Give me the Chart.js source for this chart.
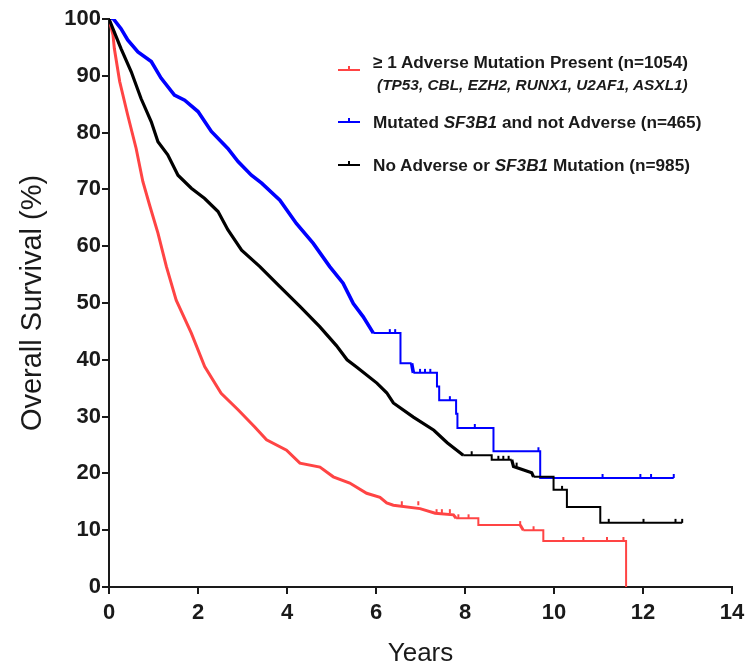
<!DOCTYPE html>
<html>
<head>
<meta charset="utf-8">
<script src="https://cdn.jsdelivr.net/npm/chart.js@4.4.1/dist/chart.umd.min.js"></script>
<style>
  html, body { margin: 0; padding: 0; background: #fff; }
  #wrap { position: relative; width: 746px; height: 671px; }
  #legend { position: absolute; left: 0; top: 0; font-family: "Liberation Sans", Arial, sans-serif; color: #1a1a1a; font-weight: bold; }
  .row { position: absolute; white-space: nowrap; font-size: 17.2px; line-height: 20px; }
  .row.sub { font-size: 15.4px; line-height: 18px; font-style: italic; }
  .sym { position: absolute; width: 22px; height: 0; border-top: 2px solid currentColor; }
  .sym::after { content: ""; position: absolute; left: 10px; top: -5px; width: 2px; height: 4px; background: currentColor; }
</style>
</head>
<body>
<div id="wrap">
  <canvas id="km" width="746" height="671"></canvas>
  <div id="legend">
    <div class="sym" style="color:#ff4444; left:338px; top:69px;"></div>
    <div class="row" style="left:373px; top:52px;">&ge; 1 Adverse Mutation Present (n=1054)</div>
    <div class="row sub" style="left:377px; top:76px;">(TP53, CBL, EZH2, RUNX1, U2AF1, ASXL1)</div>
    <div class="sym" style="color:#0000ff; left:338px; top:121px;"></div>
    <div class="row" style="left:373px; top:112px;">Mutated <i>SF3B1</i> and not Adverse (n=465)</div>
    <div class="sym" style="color:#000; left:338px; top:164px;"></div>
    <div class="row" style="left:373px; top:155px;">No Adverse or <i>SF3B1</i> Mutation (n=985)</div>
  </div>
</div>
<script>
// survival curves (years, % surviving)
const redT = [0, 0.09, 0.12, 0.24, 0.42, 0.61, 0.76, 0.91, 1.1, 1.29, 1.51, 1.85, 2.15, 2.52, 2.9, 3.27, 3.54, 3.99, 4.29, 4.74, 5.04, 5.41, 5.79, 6.09, 6.24, 6.39, 6.99, 7.33, 7.74, 7.8, 8.3, 8.3, 9.24, 9.31, 9.76, 9.76, 11.62, 11.62];
const redS = [100, 97.2, 94.8, 89, 83.1, 77.2, 71.4, 67.3, 62.3, 56.4, 50.5, 44.7, 38.8, 34.1, 31.2, 28.2, 25.9, 24.1, 21.8, 21.1, 19.4, 18.3, 16.5, 15.8, 14.8, 14.4, 13.8, 13.0, 12.7, 12.1, 12.1, 10.9, 10.9, 10.0, 10.0, 8.1, 8.1, 0];

const bluT = [0, 0.1, 0.27, 0.42, 0.65, 0.95, 1.17, 1.47, 1.7, 2.0, 2.3, 2.67, 2.9, 3.2, 3.43, 3.84, 4.21, 4.59, 4.96, 5.26, 5.49, 5.71, 5.94, 6.55, 6.55, 6.8, 6.84, 7.37, 7.37, 7.42, 7.42, 7.8, 7.8, 7.83, 7.83, 8.64, 8.64, 9.69, 9.69, 12.69];
const bluS = [100, 100, 98.3, 96.3, 94.2, 92.5, 89.6, 86.6, 85.7, 83.7, 80.2, 77.2, 74.9, 72.5, 71.1, 68.1, 64, 60.5, 56.4, 53.5, 49.9, 47.6, 44.7, 44.7, 39.4, 39.4, 37.7, 37.7, 35.3, 35.3, 32.9, 32.9, 30.5, 30.5, 28, 28, 23.9, 23.9, 19.2, 19.2];

const blkT = [0, 0.27, 0.5, 0.72, 0.95, 1.1, 1.32, 1.55, 1.85, 2.15, 2.45, 2.67, 2.98, 3.39, 3.84, 4.29, 4.74, 5.11, 5.35, 5.57, 6.02, 6.24, 6.39, 6.84, 7.3, 7.6, 7.96, 8.6, 8.6, 9.05, 9.09, 9.5, 9.54, 9.99, 9.99, 10.29, 10.29, 11.04, 11.04, 12.88];
const blkS = [100, 94.8, 90.7, 86, 81.9, 78.4, 76.1, 72.5, 70.2, 68.4, 66.1, 62.9, 59.3, 56.4, 52.9, 49.4, 45.8, 42.5, 40, 38.7, 35.9, 34.2, 32.4, 29.9, 27.6, 25.4, 23.2, 23.2, 22.4, 22.4, 21.2, 20.1, 19.4, 19.4, 17.1, 17.1, 14.1, 14.1, 11.3, 11.3];

// censor marks (years)
const redCensor = [6.58, 6.95, 7.36, 7.48, 7.66, 7.85, 8.08, 9.24, 9.54, 10.21, 10.66, 11.19, 11.56];
const bluCensor = [6.31, 6.43, 6.99, 7.1, 7.22, 7.66, 8.22, 9.65, 11.09, 11.94, 12.18, 12.69];
const blkCensor = [8.15, 8.75, 8.86, 8.98, 9.16, 10.18, 11.23, 12.01, 12.73, 12.88];

const xTicks = [0, 2, 4, 6, 8, 10, 12, 14];

const RED = "#ff4444";
const BLUE = "#0000ff";
const BLACK = "#000000";
const AXIS = "#1a1a1a";
const FONT = "'Liberation Sans', Arial, sans-serif";

function toPoints(ts, ss) {
    return ts.map((t, i) => ({ x: t, y: ss[i] }));
}

// survival level in effect at time t
function levelAt(ts, ss, t) {
    let v = ss[0];
    for (let i = 0; i < ts.length; i++) {
        if (ts[i] <= t) v = ss[i];
    }
    return v;
}

function censorPoints(times, ts, ss) {
    return times.map(t => ({ x: t, y: levelAt(ts, ss, t) }));
}

// small upward tick used for censored observations
function tickMark(color) {
    const c = document.createElement("canvas");
    c.width = 4;
    c.height = 12;
    const g = c.getContext("2d");
    g.strokeStyle = color;
    g.lineWidth = 2;
    g.beginPath();
    g.moveTo(2, 2);
    g.lineTo(2, 6);
    g.stroke();
    return c;
}

function curve(label, ts, ss, color, w) {
    return {
        label: label,
        data: toPoints(ts, ss),
        borderColor: color,
        borderWidth: w,
        pointRadius: 0,
        fill: false,
        tension: 0,
        segment: {
            borderWidth: c => (c.p0.parsed.x === c.p1.parsed.x || c.p0.parsed.y === c.p1.parsed.y) ? 2 : w
        }
    };
}

function censors(label, times, ts, ss, color) {
    return {
        label: label,
        data: censorPoints(times, ts, ss),
        showLine: false,
        pointStyle: tickMark(color),
        pointRadius: 3
    };
}

const ctx = document.getElementById("km").getContext("2d");

new Chart(ctx, {
    type: "line",
    data: {
        datasets: [
            curve("No Adverse or SF3B1 Mutation", blkT, blkS, BLACK, 3.2),
            censors("black censored", blkCensor, blkT, blkS, BLACK),
            curve("Mutated SF3B1 and not Adverse", bluT, bluS, BLUE, 3.6),
            censors("blue censored", bluCensor, bluT, bluS, BLUE),
            curve("Adverse Mutation Present", redT, redS, RED, 3),
            censors("red censored", redCensor, redT, redS, RED)
        ]
    },
    options: {
        responsive: false,
        animation: false,
        layout: { padding: { top: 19, right: 14, left: 0, bottom: 0 } },
        plugins: {
            legend: { display: false },
            tooltip: { enabled: false }
        },
        scales: {
            x: {
                type: "linear",
                min: 0,
                max: 14,
                afterBuildTicks: s => { s.ticks = xTicks.map(v => ({ value: v })); },
                afterFit: s => {
                    s.height = 84;
                    s.paddingLeft = 0;
                    s.paddingRight = 0;
                },
                ticks: {
                    color: AXIS,
                    padding: 6,
                    maxRotation: 0,
                    font: { family: FONT, size: 22, weight: "bold" }
                },
                grid: { drawOnChartArea: false, color: AXIS, lineWidth: 2, tickLength: 7 },
                border: { color: AXIS, width: 2 },
                title: {
                    display: true,
                    text: "Years",
                    color: AXIS,
                    padding: { top: 0, bottom: 4 },
                    font: { family: FONT, size: 26, lineHeight: 1 }
                }
            },
            y: {
                min: 0,
                max: 100,
                afterFit: s => { s.width = 109; },
                ticks: {
                    stepSize: 10,
                    color: AXIS,
                    padding: 1,
                    font: { family: FONT, size: 22, weight: "bold" }
                },
                grid: { drawOnChartArea: false, color: AXIS, lineWidth: 2, tickLength: 7 },
                border: { color: AXIS, width: 2 },
                title: {
                    display: true,
                    text: "Overall Survival (%)",
                    color: AXIS,
                    padding: { top: 18, bottom: 0 },
                    font: { family: FONT, size: 29, lineHeight: 1 }
                }
            }
        }
    }
});
</script>
</body>
</html>
